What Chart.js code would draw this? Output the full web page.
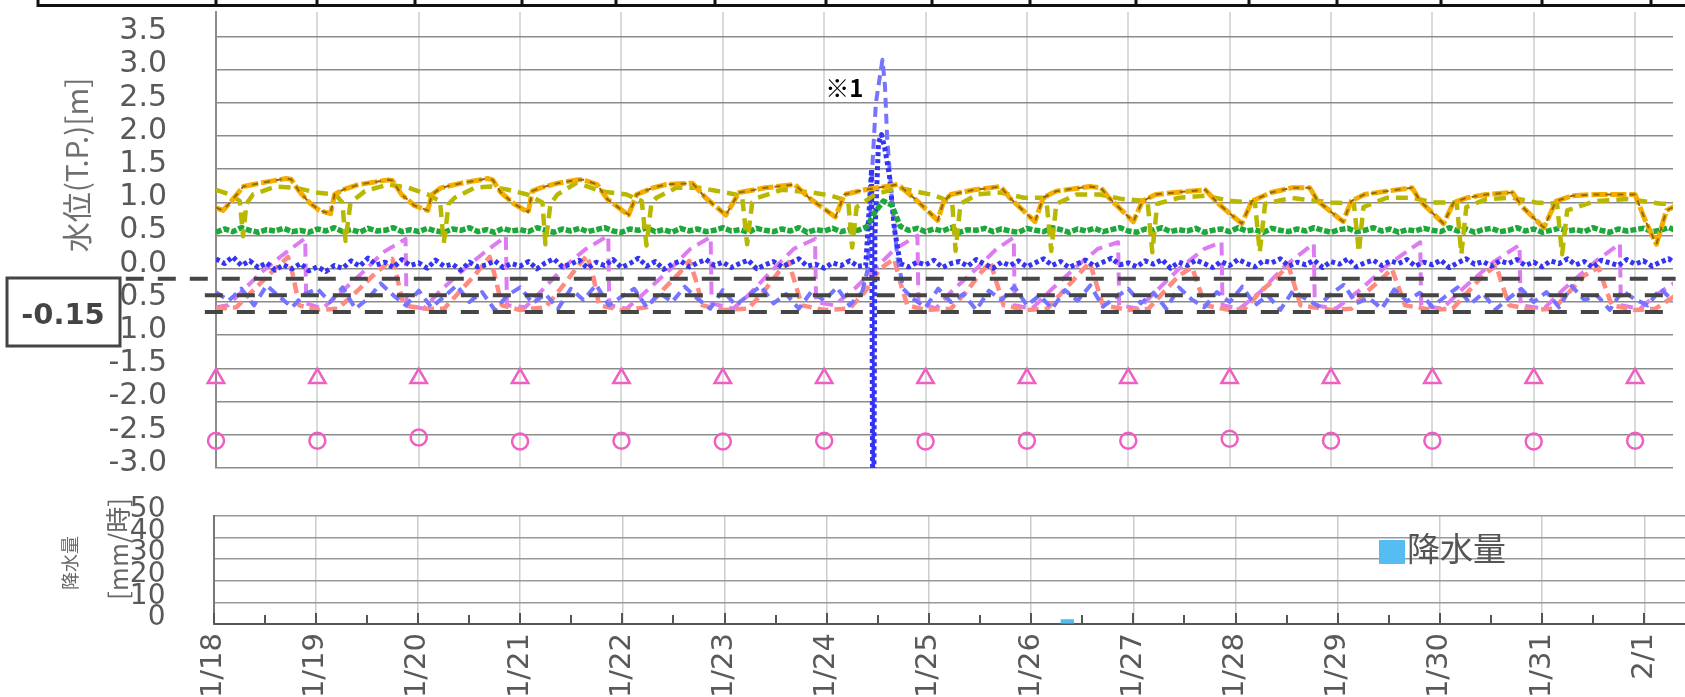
<!DOCTYPE html>
<html><head><meta charset="utf-8">
<script src="https://cdn.jsdelivr.net/npm/chart.js"></script>
<style>
html,body{margin:0;padding:0;background:#fff;overflow:hidden;width:1685px;height:697px;}
canvas{position:absolute;left:0;}
#c1{top:0;} #c2{top:480px;}
</style></head><body>
<canvas id="c1" width="1685" height="480"></canvas>
<canvas id="c2" width="1685" height="217"></canvas>
<script>
// ---------- tick labels / categories ----------
const dayLabels = ['1/18','1/19','1/20','1/21','1/22','1/23','1/24','1/25','1/26','1/27','1/28','1/29','1/30','1/31','2/1'];
const waterTitle = '水位(T.P.)[m]';
const rainTitle = '降水量';
const rainUnit = '[mm/時]';
const noteText = '※1';
const noteX = 6.2, noteY = 2.72;
const boxText = '-0.15';

// ---------- reference levels (T.P. m) ----------
const refLevels = [-0.15, -0.40, -0.65];
const refStart  = [-0.89, -0.11, -0.11];

// ---------- daily manual readings ----------
const triV  = [-1.65,-1.65,-1.65,-1.65,-1.65,-1.65,-1.65,-1.65,-1.65,-1.65,-1.65,-1.65,-1.65,-1.65,-1.65];
const circV = [-2.59,-2.59,-2.54,-2.60,-2.59,-2.60,-2.59,-2.60,-2.59,-2.59,-2.56,-2.59,-2.59,-2.60,-2.59];

// ---------- keyframe series [day, value] ----------
const orange = [[0.00,0.92],[0.07,0.88],[0.14,1.00],[0.27,1.24],[0.43,1.29],[0.69,1.36],[0.74,1.35],[0.82,1.17],[0.92,1.00],[1.02,0.88],[1.13,0.83],[1.17,1.12],[1.25,1.19],[1.41,1.27],[1.70,1.34],[1.74,1.33],[1.83,1.12],[1.96,0.95],[2.09,0.88],[2.13,1.12],[2.22,1.22],[2.42,1.29],[2.68,1.36],[2.73,1.34],[2.81,1.15],[2.94,0.98],[3.08,0.85],[3.12,1.17],[3.20,1.22],[3.37,1.29],[3.56,1.34],[3.63,1.34],[3.76,1.27],[3.86,1.05],[4.07,0.81],[4.15,1.12],[4.31,1.22],[4.44,1.27],[4.70,1.29],[4.83,1.07],[5.03,0.81],[5.16,1.15],[5.42,1.22],[5.71,1.27],[5.85,1.07],[6.11,0.78],[6.20,1.12],[6.40,1.19],[6.73,1.27],[6.92,1.02],[7.12,0.73],[7.18,1.02],[7.25,1.12],[7.48,1.19],[7.74,1.24],[7.83,1.07],[8.08,0.71],[8.16,1.07],[8.29,1.17],[8.62,1.24],[8.73,1.22],[8.81,1.07],[9.05,0.71],[9.14,1.02],[9.27,1.12],[9.47,1.15],[9.76,1.19],[9.89,0.98],[10.12,0.68],[10.22,1.02],[10.41,1.15],[10.61,1.22],[10.79,1.22],[10.87,1.02],[11.12,0.71],[11.20,1.02],[11.33,1.12],[11.55,1.17],[11.80,1.22],[11.88,1.02],[12.11,0.68],[12.21,1.00],[12.34,1.07],[12.53,1.12],[12.79,1.15],[12.89,0.93],[13.10,0.62],[13.22,1.02],[13.38,1.10],[13.61,1.12],[14.00,1.12],[14.10,0.73],[14.21,0.37],[14.31,0.88],[14.40,0.95]];

const olive = [[0.00,1.19],[0.14,1.12],[0.235,1.02],[0.267,0.49],[0.30,0.98],[0.365,1.12],[0.59,1.24],[0.79,1.22],[0.985,1.15],[1.18,1.12],[1.246,1.00],[1.278,0.42],[1.327,1.00],[1.47,1.17],[1.70,1.27],[1.90,1.22],[2.09,1.12],[2.21,1.02],[2.247,0.39],[2.296,0.98],[2.355,1.07],[2.55,1.22],[2.71,1.24],[2.88,1.19],[3.07,1.12],[3.22,1.00],[3.25,0.37],[3.30,0.98],[3.37,1.12],[3.56,1.30],[3.79,1.17],[4.05,1.12],[4.20,1.02],[4.247,0.35],[4.295,0.98],[4.344,1.07],[4.54,1.22],[4.77,1.22],[5.03,1.15],[5.19,1.10],[5.24,0.37],[5.29,1.00],[5.34,1.07],[5.58,1.19],[5.88,1.15],[6.07,1.10],[6.237,1.02],[6.276,0.32],[6.32,0.93],[6.50,1.12],[6.73,1.22],[7.05,1.12],[7.15,1.07],[7.263,1.00],[7.296,0.27],[7.345,0.98],[7.51,1.12],[7.74,1.15],[7.97,1.07],[8.19,1.07],[8.24,0.27],[8.29,0.98],[8.49,1.12],[8.72,1.12],[8.94,1.05],[9.19,1.02],[9.237,0.25],[9.286,0.98],[9.50,1.07],[9.76,1.10],[10.02,1.02],[10.25,1.00],[10.297,0.25],[10.35,0.98],[10.61,1.07],[10.70,1.05],[11.00,1.00],[11.226,0.98],[11.275,0.25],[11.32,0.93],[11.55,1.07],[11.81,1.07],[12.00,1.00],[12.24,1.00],[12.286,0.22],[12.335,0.93],[12.53,1.05],[12.79,1.07],[13.02,1.00],[13.23,0.98],[13.28,0.22],[13.33,0.88],[13.61,1.02],[13.93,1.05],[14.26,0.98],[14.40,0.98]];

const violet = [[0.00,-0.58],[0.12,-0.55],[0.25,-0.35],[0.45,-0.05],[0.65,0.20],[0.88,0.46],[0.89,-0.52],[1.05,-0.60],[1.20,-0.40],[1.45,-0.05],[1.65,0.25],[1.87,0.45],[1.88,-0.55],[2.05,-0.60],[2.20,-0.35],[2.45,0.00],[2.65,0.25],[2.86,0.49],[2.87,-0.55],[3.05,-0.58],[3.20,-0.35],[3.45,0.05],[3.65,0.30],[3.87,0.50],[3.88,-0.55],[4.05,-0.60],[4.20,-0.40],[4.45,-0.05],[4.68,0.30],[4.88,0.48],[4.89,-0.52],[5.10,-0.60],[5.25,-0.40],[5.50,0.00],[5.70,0.30],[5.91,0.45],[5.92,-0.50],[6.10,-0.55],[6.30,-0.30],[6.50,0.00],[6.70,0.30],[6.92,0.50],[6.93,-0.50],[7.10,-0.60],[7.25,-0.35],[7.50,0.00],[7.70,0.30],[7.87,0.47],[7.88,-0.55],[8.05,-0.60],[8.25,-0.30],[8.50,0.05],[8.70,0.30],[8.90,0.40],[8.91,-0.55],[9.10,-0.60],[9.30,-0.30],[9.50,0.00],[9.75,0.30],[9.92,0.40],[9.93,-0.55],[10.10,-0.60],[10.30,-0.35],[10.55,0.05],[10.83,0.38],[10.84,-0.55],[11.05,-0.60],[11.30,-0.30],[11.55,0.05],[11.88,0.40],[11.89,-0.55],[12.10,-0.60],[12.30,-0.30],[12.60,0.10],[12.86,0.36],[12.87,-0.55],[13.10,-0.60],[13.30,-0.30],[13.60,0.10],[13.85,0.38],[13.86,-0.55],[14.05,-0.60],[14.20,-0.40],[14.40,-0.20]];

const salmon = [[0.00,-0.60],[0.20,-0.58],[0.35,-0.35],[0.55,-0.05],[0.71,0.18],[0.76,-0.10],[0.82,-0.55],[1.00,-0.62],[1.20,-0.60],[1.35,-0.40],[1.55,-0.10],[1.74,0.15],[1.79,-0.15],[1.85,-0.55],[2.05,-0.60],[2.25,-0.60],[2.40,-0.35],[2.55,-0.10],[2.70,0.18],[2.75,-0.10],[2.82,-0.55],[3.00,-0.62],[3.25,-0.58],[3.40,-0.30],[3.55,0.00],[3.66,0.20],[3.72,-0.10],[3.78,-0.55],[4.00,-0.62],[4.25,-0.58],[4.42,-0.30],[4.58,-0.05],[4.67,0.12],[4.73,-0.15],[4.80,-0.55],[5.00,-0.62],[5.25,-0.60],[5.40,-0.35],[5.55,-0.05],[5.65,0.10],[5.71,-0.20],[5.78,-0.55],[6.00,-0.62],[6.25,-0.60],[6.40,-0.35],[6.55,0.00],[6.69,0.15],[6.75,-0.20],[6.82,-0.55],[7.00,-0.62],[7.25,-0.60],[7.40,-0.35],[7.55,-0.05],[7.64,0.10],[7.70,-0.20],[7.77,-0.55],[8.00,-0.62],[8.20,-0.60],[8.35,-0.35],[8.50,-0.10],[8.62,0.10],[8.68,-0.20],[8.75,-0.55],[9.00,-0.62],[9.20,-0.60],[9.35,-0.35],[9.50,-0.10],[9.63,0.02],[9.69,-0.25],[9.76,-0.55],[10.00,-0.62],[10.15,-0.60],[10.30,-0.35],[10.45,-0.15],[10.58,0.05],[10.64,-0.25],[10.70,-0.55],[11.00,-0.62],[11.20,-0.60],[11.35,-0.35],[11.50,-0.15],[11.60,0.00],[11.66,-0.25],[11.73,-0.55],[12.00,-0.62],[12.20,-0.60],[12.35,-0.35],[12.50,-0.10],[12.63,0.05],[12.69,-0.25],[12.76,-0.55],[13.00,-0.62],[13.20,-0.60],[13.35,-0.35],[13.50,-0.10],[13.64,0.02],[13.70,-0.25],[13.77,-0.55],[14.00,-0.62],[14.20,-0.60],[14.40,-0.40]];

// event of 1/24 (※1)
const blueEvent = [[6.333,0.04],[6.41,0.05],[6.44,0.80],[6.468,1.50],[6.478,-3.30],[6.49,-3.30],[6.50,0.50],[6.536,1.90],[6.566,2.02],[6.60,1.80],[6.644,1.40],[6.693,0.60],[6.75,0.08]];
const lightBlueEvent = [[6.375,-0.35],[6.43,0.00],[6.47,1.40],[6.51,2.50],[6.575,3.15],[6.60,2.75],[6.62,2.00],[6.67,1.00],[6.72,0.20],[6.78,-0.30],[6.875,-0.45]];

// ---------- sampled series (every 2 h from 1/18 00:00) ----------
const STEP2H = 2/24, STEP3H = 3/24;
const greenV = [
0.55,0.60,0.56,0.62,0.58,0.55,0.59,0.57,0.61,0.56,0.58,0.55,
0.60,0.57,0.62,0.56,0.59,0.55,0.61,0.57,0.58,0.62,0.56,0.59,
0.56,0.61,0.57,0.55,0.60,0.58,0.62,0.56,0.59,0.55,0.61,0.57,
0.59,0.56,0.62,0.58,0.55,0.60,0.57,0.61,0.56,0.59,0.62,0.57,
0.55,0.60,0.58,0.62,0.56,0.59,0.55,0.61,0.57,0.60,0.56,0.58,
0.62,0.57,0.59,0.55,0.61,0.58,0.56,0.60,0.57,0.62,0.55,0.59,
0.57,0.61,0.56,0.59,0.58,0.63,0.85,1.02,0.96,0.64,0.58,0.61,
0.56,0.60,0.57,0.62,0.55,0.59,0.58,0.61,0.56,0.60,0.57,0.55,
0.61,0.58,0.56,0.62,0.59,0.55,0.60,0.57,0.61,0.56,0.59,0.62,
0.57,0.55,0.60,0.58,0.62,0.56,0.59,0.57,0.61,0.55,0.58,0.60,
0.56,0.62,0.57,0.59,0.55,0.61,0.58,0.56,0.60,0.57,0.62,0.58,
0.55,0.59,0.61,0.56,0.58,0.62,0.57,0.60,0.55,0.59,0.57,0.61,
0.58,0.56,0.62,0.57,0.60,0.55,0.59,0.61,0.56,0.58,0.62,0.57,
0.60,0.55,0.58,0.61,0.57,0.59,0.56,0.62,0.58,0.55,0.60,0.57,
0.59,0.61,0.56,0.58,0.62,0.57];
const blueV = [
0.15,0.08,0.18,0.05,0.12,0.02,0.09,-0.02,0.06,0.00,0.08,-0.03,
0.03,-0.04,0.05,0.01,0.12,0.04,0.16,0.06,0.10,0.02,0.14,0.05,
0.09,0.01,0.13,0.04,0.07,-0.02,0.10,0.03,0.06,0.12,0.02,0.08,
0.04,0.11,0.00,0.09,0.15,0.03,0.07,0.13,0.01,0.10,0.05,0.14,
0.02,0.08,0.16,0.04,0.11,-0.01,0.07,0.12,0.03,0.09,0.14,0.05,
0.10,0.02,0.08,0.13,0.00,0.06,0.11,0.03,0.09,0.15,0.04,0.07,
0.01,0.09,0.05,0.12,0.04,null,null,null,null,0.08,0.03,0.10,
0.06,0.13,0.02,0.08,0.11,0.04,0.14,0.07,0.01,0.10,0.05,0.12,
0.03,0.09,0.15,0.05,0.11,0.02,0.08,0.13,0.04,0.10,0.16,0.06,
0.09,0.03,0.12,0.07,0.14,0.01,0.10,0.05,0.13,0.08,0.02,0.11,
0.05,0.14,0.08,0.03,0.12,0.09,0.15,0.04,0.10,0.06,0.13,0.02,
0.11,0.07,0.15,0.03,0.09,0.13,0.05,0.12,0.08,0.14,0.04,0.10,
0.06,0.13,0.02,0.09,0.15,0.07,0.11,0.04,0.12,0.08,0.14,0.05,
0.10,0.03,0.12,0.08,0.15,0.06,0.11,0.02,0.13,0.09,0.05,0.14,
0.07,0.12,0.04,0.10,0.15,0.06];
// every 3 h
const lightBlueV = [
-0.35,-0.48,-0.30,-0.55,-0.25,-0.42,-0.58,-0.38,
-0.30,-0.50,-0.28,-0.60,-0.45,-0.22,-0.40,-0.55,
-0.33,-0.58,-0.42,-0.25,-0.50,-0.35,-0.62,-0.40,
-0.28,-0.52,-0.38,-0.60,-0.30,-0.47,-0.24,-0.55,
-0.42,-0.30,-0.58,-0.36,-0.50,-0.27,-0.45,-0.60,
-0.32,-0.55,-0.40,-0.26,-0.52,-0.38,-0.60,-0.34,
-0.48,-0.28,-0.55,-0.35,null,null,null,-0.45,
-0.58,-0.30,-0.50,-0.38,-0.62,-0.33,-0.47,-0.27,
-0.55,-0.40,-0.60,-0.32,-0.48,-0.25,-0.57,-0.43,
-0.30,-0.52,-0.36,-0.60,-0.28,-0.46,-0.58,-0.35,
-0.50,-0.27,-0.55,-0.40,-0.62,-0.33,-0.45,-0.56,
-0.38,-0.24,-0.52,-0.44,-0.60,-0.31,-0.49,-0.36,
-0.57,-0.42,-0.28,-0.53,-0.37,-0.61,-0.45,-0.30,
-0.50,-0.35,-0.58,-0.26,-0.47,-0.40,-0.62,-0.33,
-0.46,-0.55,-0.30,-0.48];

// ---------- rainfall (hourly, mm) ----------
const rainT = [8.3125, 8.3542, 8.3958];
const rainV = [2, 2, 2];

// decorative top table border columns (cut-off header)
const frameCols = [38,216,317,415,522,616,715,826,932,1030,1136,1249,1337,1441,1542,1651];

// ---------- helpers ----------
const pairs = a => a.map(p => ({x:p[0], y:p[1]}));
const sampled = (vals, step) => vals.map((v,i) => ({x:i*step, y:v}));
const line = (label, data, color, width, dash, extra) => Object.assign({
  label, data, borderColor:color, backgroundColor:color, borderWidth:width, borderDash:dash,
  pointRadius:0, tension:0, borderJoinStyle:'round', spanGaps:false, fill:false
}, extra||{});

const PINK = '#ef5fc2';
const ds1 = [];
refLevels.forEach((lv,i)=> ds1.push(line('基準'+i, [{x:refStart[i],y:lv},{x:14.4,y:lv}], '#454545', 4, [18,14], {clip:false})));
ds1.push(line('orange2', pairs(orange), '#94680a', 2, [6,6]));
ds1.push(line('orange', pairs(orange), '#f3ae00', 5, [16,3]));
ds1.push(line('olive', pairs(olive), '#b8b800', 4.5, [12,7]));
ds1.push(line('green', sampled(greenV, STEP2H), '#1ea83a', 5.5, [6,2]));
ds1.push(line('blueEv', pairs(blueEvent), '#3434f2', 5, [4,3]));
ds1.push(line('blue', sampled(blueV, STEP2H), '#3434f2', 5, [4,3]));
ds1.push(line('lbEv', pairs(lightBlueEvent), '#7474ff', 4, [10,6]));
ds1.push(line('lightblue', sampled(lightBlueV, STEP3H), '#7474ff', 4, [10,6]));
ds1.push(line('salmon', pairs(salmon), '#ff8a80', 4.5, [11,6]));
ds1.push(line('violet', pairs(violet), '#dc7cf0', 4, [13,7]));
ds1.push({label:'tri', data: triV.map((v,i)=>({x:i,y:v})), showLine:false, pointStyle:'triangle', pointRadius:9.5,
  borderColor:PINK, backgroundColor:'rgba(0,0,0,0)', pointBorderWidth:2.5, clip:false});
ds1.push({label:'circ', data: circV.map((v,i)=>({x:i,y:v})), showLine:false, pointStyle:'circle', pointRadius:8,
  borderColor:PINK, backgroundColor:'rgba(0,0,0,0)', pointBorderWidth:2.5, clip:false});

const deco1 = {
  id:'deco1',
  afterDraw(chart){
    const ctx = chart.ctx, xs = chart.scales.x, ys = chart.scales.y;
    ctx.save();
    // cut-off table border on top
    ctx.strokeStyle = '#111'; ctx.lineWidth = 3; ctx.beginPath();
    ctx.moveTo(frameCols[0], 5.5); ctx.lineTo(1685, 5.5);
    frameCols.forEach(x => { ctx.moveTo(x, 0); ctx.lineTo(x, 7); });
    ctx.stroke();
    // axis title
    ctx.save(); ctx.translate(77, 165); ctx.rotate(-Math.PI/2);
    ctx.font = '30px "Noto Sans CJK JP"'; ctx.fillStyle = '#707070';
    ctx.textAlign = 'center'; ctx.textBaseline = 'middle';
    ctx.fillText(waterTitle, 0, 0); ctx.restore();
    // note
    ctx.font = 'bold 24px "Noto Sans CJK JP"'; ctx.fillStyle = '#000';
    ctx.textAlign = 'center'; ctx.textBaseline = 'middle';
    ctx.fillText(noteText, xs.getPixelForValue(noteX), ys.getPixelForValue(noteY));
    // -0.15 box
    const top = Math.round(ys.getPixelForValue(refLevels[0])) - 1;
    ctx.fillStyle = '#fff'; ctx.fillRect(7, top, 113, 68);
    ctx.strokeStyle = '#444'; ctx.lineWidth = 3; ctx.strokeRect(7, top, 113, 68);
    ctx.fillStyle = '#444'; ctx.font = 'bold 29px "DejaVu Sans"';
    ctx.fillText(boxText, 63, top + 38);
    ctx.restore();
  }
};

new Chart(document.getElementById('c1'), {
  type:'line',
  data:{datasets: ds1},
  options:{
    responsive:false, animation:false, devicePixelRatio:1,
    layout:{padding:{top:8,left:0,right:0,bottom:0}},
    plugins:{legend:{display:false}, tooltip:{enabled:false}},
    scales:{
      x:{type:'linear', min:0, max:14.374,
        ticks:{display:false, stepSize:1, includeBounds:false, autoSkip:false},
        grid:{color:'#dadada', lineWidth:2, drawTicks:false}, border:{display:false},
        afterFit(s){ s.height = 5.6; s.paddingLeft = 0; s.paddingRight = 0; }},
      y:{type:'linear', min:-3, max:3.868,
        ticks:{stepSize:0.5, includeBounds:false, autoSkip:false, padding:49, labelOffset:-5, color:'#595959',
          font:{family:'DejaVu Sans', size:30}, callback:v => Number(v).toFixed(1)},
        grid:{color:'#8c8c8c', lineWidth:1.5, drawTicks:false},
        border:{color:'#8c8c8c', width:2},
        afterFit(s){ s.width = 216; s.paddingTop = 0; s.paddingBottom = 0; }}
    }
  },
  plugins:[deco1]
});

// ---------- rain chart ----------
const deco2 = {
  id:'deco2',
  afterDraw(chart){
    const ctx = chart.ctx, xs = chart.scales.x, area = chart.chartArea;
    ctx.save();
    ctx.strokeStyle = '#555'; ctx.lineWidth = 2; ctx.beginPath();
    for (let k = 0; k <= Math.floor(xs.max*2); k++){
      const v = k/2, px = Math.round(xs.getPixelForValue(v));
      ctx.moveTo(px, area.bottom); ctx.lineTo(px, area.bottom - (k%2===0 ? 11 : 9));
    }
    ctx.stroke();
    ctx.fillStyle = '#666'; ctx.textAlign = 'center'; ctx.textBaseline = 'middle';
    ctx.save(); ctx.translate(70, 83); ctx.rotate(-Math.PI/2);
    ctx.font = '18px "Noto Sans CJK JP"'; ctx.fillText(rainTitle, 0, 0); ctx.restore();
    ctx.save(); ctx.translate(118, 69); ctx.rotate(-Math.PI/2);
    ctx.font = '26px "Noto Sans CJK JP"'; ctx.fillText(rainUnit, 0, 0); ctx.restore();
    // legend
    const d = chart.data.datasets[0];
    ctx.fillStyle = d.backgroundColor; ctx.fillRect(1379, 60, 26, 24);
    ctx.fillStyle = '#555'; ctx.textAlign = 'left';
    ctx.font = '33px "Noto Sans CJK JP"'; ctx.fillText(d.label, 1407, 68);
    ctx.restore();
  }
};

new Chart(document.getElementById('c2'), {
  type:'bar',
  data:{datasets:[{label:rainTitle, data: rainT.map((t,i)=>({x:t,y:rainV[i]})),
    backgroundColor:'#55bdf2', barPercentage:1, categoryPercentage:1}]},
  options:{
    responsive:false, animation:false, devicePixelRatio:1,
    layout:{padding:{top:36,left:0,right:0,bottom:0}},
    plugins:{legend:{display:false}, tooltip:{enabled:false}},
    scales:{
      x:{type:'linear', min:0, max:14.398, offset:false,
        ticks:{stepSize:1, includeBounds:false, autoSkip:false, maxRotation:90, minRotation:90, padding:9,
          color:'#595959', font:{family:'DejaVu Sans', size:29}, callback:v => dayLabels[v]},
        grid:{color:'#cccccc', lineWidth:1.5, drawTicks:false, offset:false},
        border:{color:'#555', width:2},
        afterFit(s){ s.height = 73; s.paddingLeft = 0; s.paddingRight = 0; }},
      y:{min:0, max:50,
        ticks:{stepSize:10, autoSkip:false, padding:48, labelOffset:-6, color:'#595959', font:{family:'DejaVu Sans', size:28}},
        grid:{color:'#999', lineWidth:1.5, drawTicks:false},
        border:{color:'#777', width:2},
        afterFit(s){ s.width = 213.5; s.paddingTop = 0; s.paddingBottom = 0; }}
    }
  },
  plugins:[deco2]
});
</script></body></html>
